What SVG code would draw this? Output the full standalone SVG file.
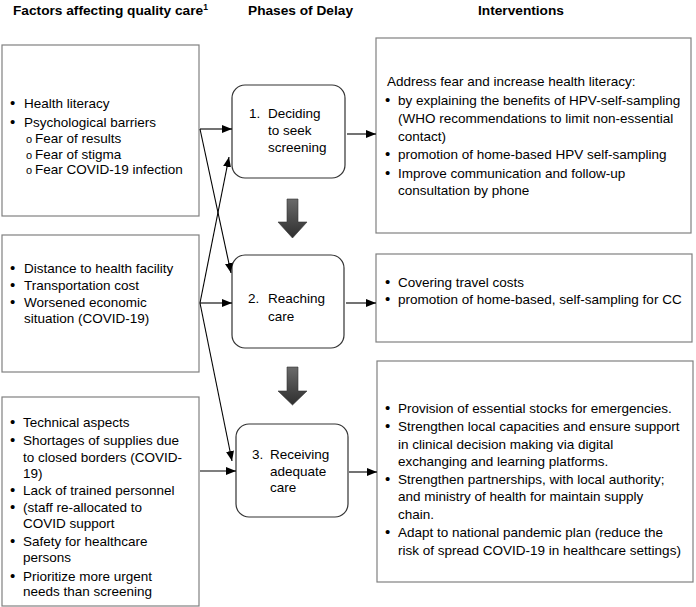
<svg xmlns="http://www.w3.org/2000/svg" width="696" height="607" viewBox="0 0 696 607">
<defs>
<style>
text{font-family:"Liberation Sans",Arial,sans-serif;font-size:13.5px;fill:#000}
.h{font-weight:bold;font-size:13.7px}
.sb{font-size:11px}
.b{font-size:15px}
.box{fill:#fff;stroke:#808080;stroke-width:1.2}
.ph{fill:#fff;stroke:#333;stroke-width:1.2}
.c{stroke:#000;stroke-width:1.1;fill:none;marker-end:url(#ah)}
.blk{fill:url(#g);stroke:#333;stroke-width:0.6}
</style>
<marker id="ah" viewBox="0 0 10 8" refX="10" refY="4" markerWidth="10" markerHeight="8" markerUnits="userSpaceOnUse" orient="auto">
<path d="M0,0 L10,4 L0,8 Z" fill="#000"/>
</marker>
<linearGradient id="g" x1="0" y1="0" x2="0" y2="1">
<stop offset="0" stop-color="#6a6a6a"/>
<stop offset="1" stop-color="#2e2e2e"/>
</linearGradient>
</defs>
<rect width="696" height="607" fill="#fff"/>

<g id="headers">
<text class="h" x="13" y="15">Factors affecting quality care<tspan font-size="8.5" dy="-5">1</tspan></text>
<text class="h" x="248" y="15">Phases of Delay</text>
<text class="h" x="478" y="15">Interventions</text>
</g>

<g id="factor1">
<rect class="box" x="2" y="45" width="197" height="171"/>
<text class="b" x="10" y="108">•</text><text x="24" y="108">Health literacy</text>
<text class="b" x="10" y="127">•</text><text x="24" y="127">Psychological barriers</text>
<text class="sb" x="26" y="143">o</text><text x="35" y="143">Fear of results</text>
<text class="sb" x="26" y="159">o</text><text x="35" y="159">Fear of stigma</text>
<text class="sb" x="26" y="174">o</text><text x="35" y="174">Fear COVID-19 infection</text>
</g>

<g id="factor2">
<rect class="box" x="2" y="235" width="197" height="137"/>
<text class="b" x="10" y="273">•</text><text x="24" y="273">Distance to health facility</text>
<text class="b" x="10" y="290">•</text><text x="24" y="290">Transportation cost</text>
<text class="b" x="10" y="307">•</text><text x="24" y="307">Worsened economic</text>
<text x="24" y="323">situation (COVID-19)</text>
</g>

<g id="factor3">
<rect class="box" x="2" y="397" width="197" height="209"/>
<text class="b" x="10" y="427">•</text><text x="23" y="427">Technical aspects</text>
<text class="b" x="10" y="445">•</text><text x="23" y="445">Shortages of supplies due</text>
<text x="23" y="462">to closed borders (COVID-</text>
<text x="23" y="478">19)</text>
<text class="b" x="10" y="495">•</text><text x="23" y="495">Lack of trained personnel</text>
<text class="b" x="10" y="512">•</text><text x="23" y="512">(staff re-allocated to</text>
<text x="23" y="528">COVID support</text>
<text class="b" x="10" y="546">•</text><text x="23" y="546">Safety for healthcare</text>
<text x="23" y="562">persons</text>
<text class="b" x="10" y="581">•</text><text x="23" y="581">Prioritize more urgent</text>
<text x="23" y="596">needs than screening</text>
</g>

<g id="phase1">
<rect class="ph" x="232" y="85" width="113" height="93" rx="13"/>
<text x="249" y="118">1.</text><text x="268" y="118">Deciding</text>
<text x="268" y="135">to seek</text>
<text x="268" y="152">screening</text>
</g>

<g id="phase2">
<rect class="ph" x="232" y="255" width="112" height="93" rx="13"/>
<text x="248" y="303">2.</text><text x="268" y="303">Reaching</text>
<text x="268" y="321">care</text>
</g>

<g id="phase3">
<rect class="ph" x="236" y="424" width="112" height="93" rx="13"/>
<text x="252" y="459">3.</text><text x="270" y="459">Receiving</text>
<text x="270" y="476">adequate</text>
<text x="270" y="492">care</text>
</g>

<g id="intervention1">
<rect class="box" x="376" y="38" width="315" height="195"/>
<text x="387" y="86">Address fear and increase health literacy:</text>
<text class="b" x="385" y="105">•</text><text x="398" y="105">by explaining the benefits of HPV-self-sampling</text>
<text x="398" y="123">(WHO recommendations to limit non-essential</text>
<text x="398" y="141">contact)</text>
<text class="b" x="385" y="159">•</text><text x="398" y="159">promotion of home-based HPV self-sampling</text>
<text class="b" x="385" y="178">•</text><text x="398" y="178">Improve communication and follow-up</text>
<text x="398" y="195">consultation by phone</text>
</g>

<g id="intervention2">
<rect class="box" x="376" y="254" width="316" height="88"/>
<text class="b" x="385" y="287">•</text><text x="398" y="287">Covering travel costs</text>
<text class="b" x="385" y="304">•</text><text x="398" y="304">promotion of home-based, self-sampling for CC</text>
</g>

<g id="intervention3">
<rect class="box" x="377" y="361" width="316" height="221"/>
<text class="b" x="385" y="413">•</text><text x="398" y="413">Provision of essential stocks for emergencies.</text>
<text class="b" x="385" y="431">•</text><text x="398" y="431">Strengthen local capacities and ensure support</text>
<text x="398" y="449">in clinical decision making via digital</text>
<text x="398" y="466">exchanging and learning platforms.</text>
<text class="b" x="385" y="484">•</text><text x="398" y="484">Strengthen partnerships, with local authority;</text>
<text x="398" y="501">and ministry of health for maintain supply</text>
<text x="398" y="519">chain.</text>
<text class="b" x="385" y="537">•</text><text x="398" y="537">Adapt to national pandemic plan (reduce the</text>
<text x="398" y="555">risk of spread COVID-19 in healthcare settings)</text>
</g>

<g id="connectors">
<path class="c" d="M200,129 L232,129"/>
<path class="c" d="M200,129 L231,273"/>
<path class="c" d="M200,303 L232,303"/>
<path class="c" d="M200,303 L229,157"/>
<path class="c" d="M200,303 L232,461"/>
<path class="c" d="M200,471 L236,471"/>
<path class="c" d="M347,134 L376,134"/>
<path class="c" d="M346,303 L376,303"/>
<path class="c" d="M349,472 L377,472"/>
<path class="blk" d="M287,199 H298 V222 H307 L292.5,238 L278,222 H287 Z"/>
<path class="blk" d="M287,367 H298 V391 H307 L292.5,405 L278,391 H287 Z"/>
</g>
</svg>
